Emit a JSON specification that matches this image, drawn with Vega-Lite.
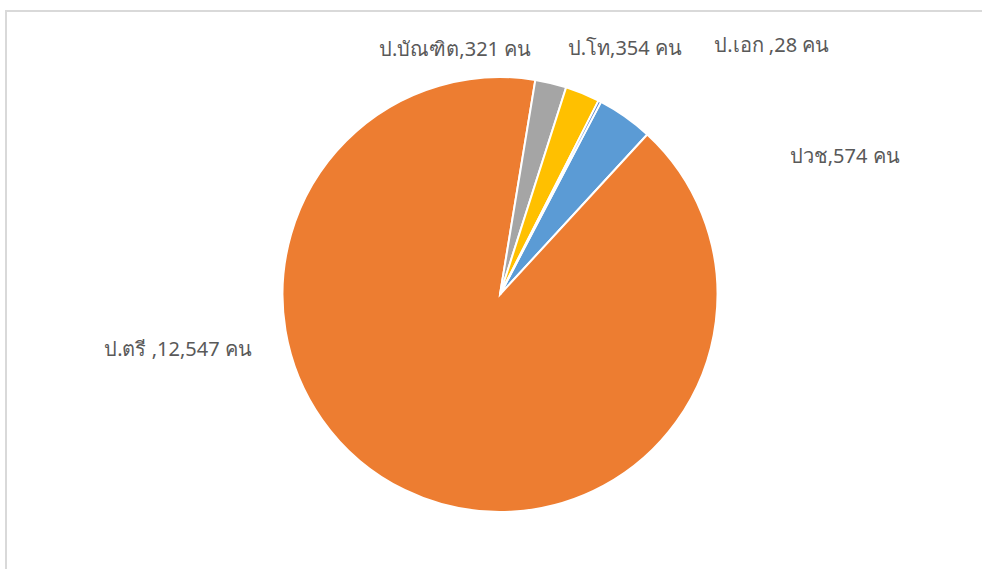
{
  "$schema": "https://vega.github.io/schema/vega-lite/v6.json",
  "width": 988,
  "height": 567,
  "autosize": {"type": "none"},
  "padding": {"left": 6, "top": 11, "right": 0, "bottom": 0},
  "background": "white",
  "view": {"stroke": "#d9d9d9", "strokeWidth": 2},
  "data": {
    "values": [
      {"edu": "ปวช", "n": 574, "label": "ปวช,574 คน"},
      {"edu": "ป.ตรี", "n": 12547, "label": "ป.ตรี ,12,547 คน"},
      {"edu": "ป.บัณฑิต", "n": 321, "label": "ป.บัณฑิต,321 คน"},
      {"edu": "ป.โท", "n": 354, "label": "ป.โท,354 คน"},
      {"edu": "ป.เอก", "n": 28, "label": "ป.เอก ,28 คน"}
    ]
  },
  "transform": [{"window": [{"op": "row_number", "as": "idx"}]}],
  "layer": [
    {
      "mark": {"type": "arc", "outerRadius": 217.5, "stroke": "white", "strokeWidth": 2},
      "encoding": {
        "theta": {"field": "n", "type": "quantitative", "stack": true, "scale": {"range": [0.483, 6.766]}},
        "order": {"field": "idx", "type": "quantitative"},
        "color": {
          "field": "edu",
          "type": "nominal",
          "scale": {
            "domain": ["ปวช", "ป.ตรี", "ป.บัณฑิต", "ป.โท", "ป.เอก"],
            "range": ["#5B9BD5", "#ED7D31", "#A5A5A5", "#FFC000", "#4472C4"]
          },
          "legend": null
        }
      }
    },
    {
      "mark": {"type": "text", "font": "Noto Sans", "fontSize": 20, "color": "#595959", "align": "center", "baseline": "middle"},
      "encoding": {
        "theta": {
          "field": "idx",
          "type": "quantitative",
          "stack": null,
          "scale": {
            "type": "linear",
            "domain": [1, 2, 3, 4, 5],
            "range": [1.192, 4.543, 6.102, 0.471, 0.831]
          }
        },
        "radius": {
          "field": "idx",
          "type": "quantitative",
          "scale": {
            "type": "linear",
            "domain": [1, 2, 3, 4, 5],
            "range": [371, 326.7, 249, 275, 368]
          }
        },
        "text": {"field": "label"}
      }
    }
  ],
  "resolve": {"scale": {"theta": "independent", "radius": "independent"}}
}
